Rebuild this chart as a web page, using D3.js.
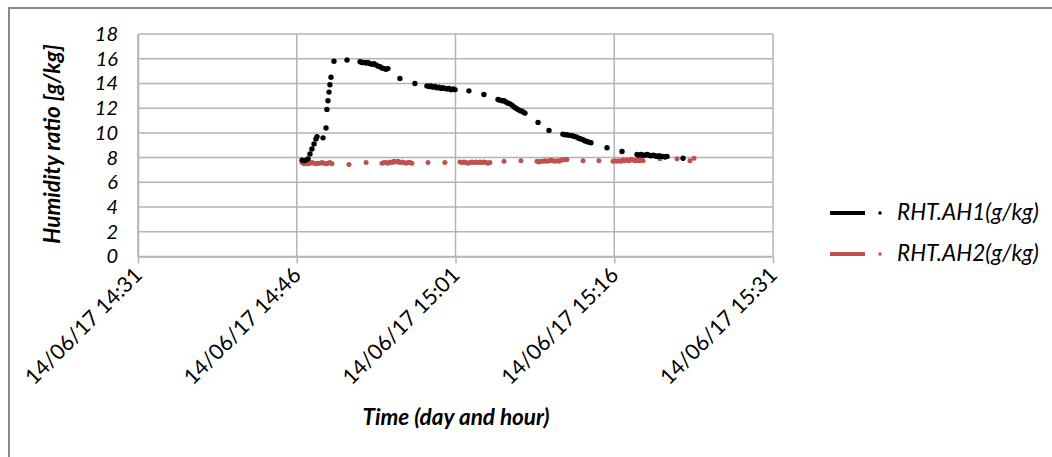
<!DOCTYPE html>
<html>
<head>
<meta charset="utf-8">
<script src="https://cdn.jsdelivr.net/npm/d3@7"></script>
<style>
  body { margin: 0; background: #fff; }
  svg { display: block; }
</style>
</head>
<body>
<script>
// RHT.AH1 (black) - time of reading and humidity ratio in g/kg
const ah1Time = ["14:46:30","14:46:41","14:46:52","14:47:04","14:47:15","14:47:26","14:47:38","14:47:49","14:47:55","14:48:29","14:48:46","14:48:51","14:48:57","14:49:03","14:49:08","14:49:14","14:49:31","14:50:45",
  "14:51:59","14:52:10","14:52:21","14:52:33","14:52:44","14:52:55","14:53:07","14:53:18","14:53:29","14:53:41","14:53:52","14:54:03","14:54:15","14:54:26","14:54:37",
  "14:55:45","14:57:10",
  "14:58:18","14:58:30","14:58:41","14:58:52","14:59:04","14:59:15","14:59:26","14:59:38","14:59:49","15:00:00","15:00:12","15:00:23","15:00:34","15:00:46","15:00:57",
  "15:02:16","15:03:41",
  "15:05:01","15:05:12","15:05:24","15:05:35","15:05:46","15:05:58","15:06:09","15:06:20","15:06:32","15:06:43","15:06:54","15:07:06","15:07:17","15:07:28","15:07:34",
  "15:08:48","15:09:50",
  "15:11:09","15:11:21","15:11:32","15:11:43","15:11:55","15:12:06","15:12:17","15:12:29","15:12:40","15:12:51","15:13:03","15:13:14","15:13:25","15:13:37","15:13:48",
  "15:15:19","15:16:44",
  "15:18:09","15:18:20","15:18:32","15:18:43","15:18:54","15:19:06","15:19:17","15:19:28","15:19:40","15:19:51","15:20:02","15:20:14","15:20:25","15:20:36","15:20:48","15:20:59",
  "15:22:30"];
const ah1Value = [7.8,7.75,7.8,7.9,8.3,8.7,9.1,9.5,9.7,9.6,10.4,11.9,12.6,13.3,13.9,14.5,15.8,15.9,
  15.75,15.7,15.7,15.65,15.7,15.6,15.55,15.6,15.5,15.4,15.35,15.25,15.2,15.15,15.2,
  14.4,14.0,
  13.8,13.75,13.8,13.7,13.75,13.65,13.7,13.6,13.65,13.6,13.55,13.6,13.5,13.55,13.5,
  13.4,13.1,
  12.7,12.65,12.6,12.6,12.5,12.4,12.35,12.25,12.1,12.0,11.9,11.8,11.75,11.65,11.6,
  10.85,10.2,
  9.9,9.85,9.85,9.8,9.8,9.75,9.7,9.65,9.55,9.5,9.45,9.35,9.3,9.25,9.2,
  8.8,8.5,
  8.25,8.2,8.25,8.2,8.2,8.25,8.2,8.15,8.2,8.15,8.1,8.15,8.1,8.1,8.05,8.1,
  7.95];

// RHT.AH2 (red)
const ah2Time = ["14:46:30","14:46:41","14:46:52","14:47:04","14:47:15","14:47:26","14:47:38","14:47:49","14:48:00","14:48:12","14:48:23","14:48:34","14:48:46","14:48:57","14:49:08","14:49:20",
  "14:50:56","14:52:33",
  "14:54:03","14:54:15","14:54:26","14:54:37","14:54:49","14:55:00","14:55:11","14:55:23","14:55:34","14:55:45","14:55:57","14:56:08","14:56:19","14:56:31","14:56:42","14:56:53",
  "14:58:24","15:00:00",
  "15:01:25","15:01:37","15:01:48","15:01:59","15:02:11","15:02:22","15:02:33","15:02:45","15:02:56","15:03:07","15:03:19","15:03:30","15:03:41","15:03:53","15:04:04","15:04:15",
  "15:05:35","15:07:11",
  "15:08:42","15:08:53","15:09:05","15:09:16","15:09:27","15:09:39","15:09:50","15:10:01","15:10:13","15:10:24","15:10:35","15:10:47","15:10:58","15:11:09","15:11:21","15:11:32",
  "15:13:03","15:14:33",
  "15:15:53","15:16:04","15:16:16","15:16:27","15:16:38","15:16:50","15:17:01","15:17:12","15:17:24","15:17:35","15:17:46","15:17:58","15:18:09","15:18:20","15:18:32","15:18:43",
  "15:20:19","15:21:56","15:23:09","15:23:32"];
const ah2Value = [7.6,7.5,7.55,7.5,7.55,7.6,7.55,7.5,7.55,7.55,7.6,7.55,7.5,7.55,7.6,7.5,
  7.45,7.6,
  7.55,7.6,7.6,7.55,7.65,7.6,7.7,7.65,7.7,7.6,7.65,7.6,7.55,7.6,7.6,7.55,
  7.6,7.6,
  7.65,7.6,7.65,7.6,7.55,7.6,7.65,7.6,7.65,7.6,7.65,7.6,7.65,7.6,7.55,7.6,
  7.7,7.75,
  7.7,7.65,7.7,7.7,7.75,7.7,7.75,7.8,7.75,7.7,7.75,7.7,7.8,7.8,7.85,7.85,
  7.75,7.75,
  7.7,7.75,7.7,7.75,7.7,7.8,7.75,7.8,7.75,7.85,7.8,7.75,7.8,7.75,7.8,7.75,
  7.9,7.9,7.75,7.95];

const xTicks = ["14:31:00","14:46:00","15:01:00","15:16:00","15:31:00"];
const yTicks = [0,2,4,6,8,10,12,14,16,18];
const seriesNames = ["RHT.AH1(g/kg)", "RHT.AH2(g/kg)"];
const seriesColors = ["#000000", "#c0504d"];

const parseTime = d3.timeParse("%d/%m/%y %H:%M:%S");
const toDate = t => parseTime("14/06/17 " + t);

const width = 1052, height = 457;
const svg = d3.select("body").append("svg")
    .attr("width", width)
    .attr("height", height);

svg.append("rect").attr("width", width).attr("height", height).attr("fill", "#fff");

// outer frame (only top and left edges visible in the crop)
svg.append("path")
    .attr("d", "M9,457V8H1052")
    .attr("fill", "none")
    .attr("stroke", "#8a8a8a")
    .attr("stroke-width", 2);

const xScale = d3.scaleTime()
    .domain([toDate(xTicks[0]), toDate(xTicks[xTicks.length - 1])])
    .range([138, 773]);
const yScale = d3.scaleLinear().domain([0, 18]).range([256.5, 34]);

const gridColor = "#b4b4b4";

// horizontal gridlines
svg.append("g").selectAll("line")
    .data(yTicks)
    .enter().append("line")
    .attr("x1", xScale.range()[0]).attr("x2", xScale.range()[1])
    .attr("y1", d => yScale(d)).attr("y2", d => yScale(d))
    .attr("stroke", gridColor).attr("stroke-width", 1.5);

// vertical gridlines
svg.append("g").selectAll("line")
    .data(xTicks)
    .enter().append("line")
    .attr("x1", d => xScale(toDate(d))).attr("x2", d => xScale(toDate(d)))
    .attr("y1", yScale(18)).attr("y2", yScale(0))
    .attr("stroke", gridColor).attr("stroke-width", 1.5);

// x axis
const fmt = d3.timeFormat("%d/%m/%y %H:%M");
const xAxis = d3.axisBottom(xScale)
    .tickValues(xTicks.map(toDate))
    .tickFormat(fmt)
    .tickSize(7)
    .tickSizeOuter(0);
const gx = svg.append("g")
    .attr("transform", "translate(0," + yScale(0) + ")")
    .call(xAxis);
gx.select(".domain").attr("stroke", gridColor).attr("stroke-width", 1.5);
gx.selectAll(".tick line").attr("stroke", gridColor).attr("stroke-width", 1.5);
gx.selectAll(".tick text")
    .attr("font-family", "Lato, sans-serif")
    .attr("font-size", 21.5)
    .attr("fill", "#000")
    .attr("text-anchor", "end")
    .attr("dy", null)
    .attr("y", 0)
    .attr("transform", "translate(5,20) rotate(-45)");

// y axis
const yAxis = d3.axisLeft(yScale)
    .tickValues(yTicks)
    .tickSize(0)
    .tickPadding(20);
const gy = svg.append("g")
    .attr("transform", "translate(" + xScale.range()[0] + ",0)")
    .call(yAxis);
gy.select(".domain").attr("stroke", gridColor).attr("stroke-width", 1.5);
gy.selectAll(".tick text")
    .attr("font-family", "Lato, sans-serif")
    .attr("font-size", 20)
    .attr("font-style", "italic")
    .attr("fill", "#000");

// data points
const ah1 = ah1Time.map((t, i) => ({ t: toDate(t), v: ah1Value[i] }));
const ah2 = ah2Time.map((t, i) => ({ t: toDate(t), v: ah2Value[i] }));

svg.append("g").selectAll("circle")
    .data(ah2)
    .enter().append("circle")
    .attr("cx", d => xScale(d.t))
    .attr("cy", d => yScale(d.v))
    .attr("r", 2.5)
    .attr("fill", seriesColors[1]);

svg.append("g").selectAll("circle")
    .data(ah1)
    .enter().append("circle")
    .attr("cx", d => xScale(d.t))
    .attr("cy", d => yScale(d.v))
    .attr("r", 2.7)
    .attr("fill", seriesColors[0]);

// axis titles
svg.append("text")
    .attr("transform", "translate(60,144) rotate(-90)")
    .attr("text-anchor", "middle")
    .attr("font-family", "Lato, sans-serif")
    .attr("font-size", 22.5)
    .attr("font-weight", "bold")
    .attr("font-style", "italic")
    .text("Humidity ratio [g/kg]");

svg.append("text")
    .attr("x", 456)
    .attr("y", 425)
    .attr("text-anchor", "middle")
    .attr("font-family", "Lato, sans-serif")
    .attr("font-size", 22.5)
    .attr("font-weight", "bold")
    .attr("font-style", "italic")
    .text("Time (day and hour)");

// legend
const legend = svg.append("g").selectAll("g")
    .data(seriesNames)
    .enter().append("g")
    .attr("transform", (d, i) => "translate(830," + (213 + i * 41) + ")");
legend.append("line")
    .attr("x1", 0).attr("x2", 35)
    .attr("stroke", (d, i) => seriesColors[i])
    .attr("stroke-width", 4);
legend.append("circle")
    .attr("cx", 50).attr("r", 1.8)
    .attr("fill", (d, i) => seriesColors[i]);
legend.append("text")
    .attr("x", 67).attr("y", 7)
    .attr("font-family", "Lato, sans-serif")
    .attr("font-size", 22.5)
    .attr("font-style", "italic")
    .attr("fill", "#000")
    .text(d => d);
</script>
</body>
</html>
